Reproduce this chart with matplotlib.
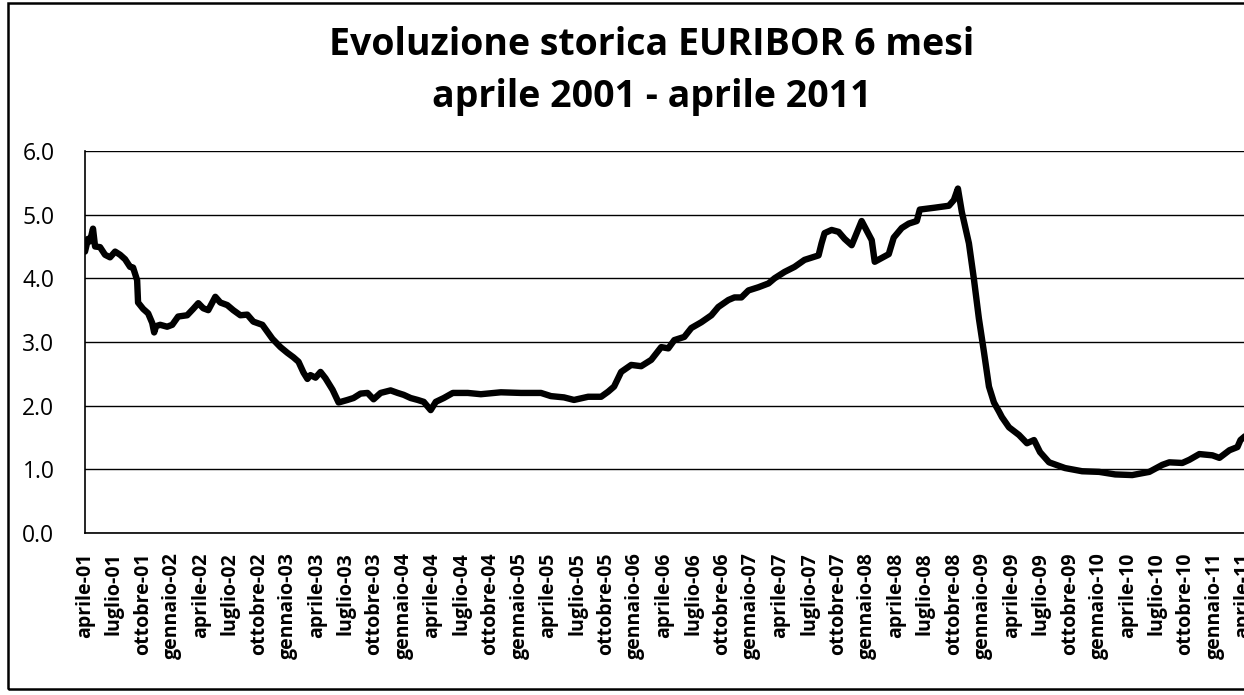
import matplotlib
matplotlib.use("Agg")
import matplotlib.pyplot as plt
from matplotlib.patches import Rectangle

# ---- data (decimal year, EURIBOR 6M %) ----
years = [2001.250, 2001.276, 2001.293, 2001.319, 2001.337, 2001.380, 2001.423, 2001.466,
         2001.510, 2001.553, 2001.596, 2001.639, 2001.665, 2001.700, 2001.708, 2001.752,
         2001.795, 2001.830, 2001.847, 2001.864, 2001.899, 2001.959, 2002.003, 2002.054,
         2002.132, 2002.184, 2002.228, 2002.271, 2002.314, 2002.375, 2002.418, 2002.478,
         2002.530, 2002.591, 2002.651, 2002.703, 2002.781, 2002.824, 2002.868, 2002.937,
         2002.997, 2003.049, 2003.093, 2003.136, 2003.170, 2003.196, 2003.240, 2003.283,
         2003.326, 2003.387, 2003.439, 2003.516, 2003.568, 2003.629, 2003.689, 2003.741,
         2003.802, 2003.888, 2003.949, 2004.001, 2004.061, 2004.122, 2004.174, 2004.234,
         2004.278, 2004.347, 2004.425, 2004.554, 2004.667, 2004.840, 2005.013, 2005.186,
         2005.272, 2005.385, 2005.471, 2005.593, 2005.705, 2005.766, 2005.817, 2005.878,
         2005.965, 2006.051, 2006.138, 2006.224, 2006.285, 2006.337, 2006.423, 2006.484,
         2006.570, 2006.657, 2006.717, 2006.804, 2006.856, 2006.916, 2006.977, 2007.063,
         2007.150, 2007.202, 2007.288, 2007.375, 2007.461, 2007.582, 2007.608, 2007.634,
         2007.695, 2007.755, 2007.807, 2007.868, 2007.954, 2008.041, 2008.067, 2008.127,
         2008.188, 2008.231, 2008.300, 2008.361, 2008.430, 2008.456, 2008.586, 2008.707,
         2008.750, 2008.785, 2008.819, 2008.880, 2008.923, 2008.966, 2009.010, 2009.053,
         2009.096, 2009.139, 2009.165, 2009.226, 2009.312, 2009.381, 2009.442, 2009.494,
         2009.572, 2009.710, 2009.857, 2010.004, 2010.143, 2010.290, 2010.437, 2010.549,
         2010.610, 2010.722, 2010.783, 2010.869, 2010.982, 2011.042, 2011.129, 2011.198,
         2011.224, 2011.276]
rates = [4.42, 4.62, 4.58, 4.78, 4.50, 4.49, 4.37, 4.33,
         4.42, 4.37, 4.30, 4.18, 4.17, 3.97, 3.62, 3.52,
         3.45, 3.30, 3.15, 3.25, 3.27, 3.24, 3.27, 3.40,
         3.42, 3.52, 3.61, 3.53, 3.50, 3.71, 3.62, 3.58,
         3.50, 3.42, 3.43, 3.32, 3.27, 3.16, 3.05, 2.92,
         2.83, 2.76, 2.69, 2.52, 2.42, 2.48, 2.44, 2.53,
         2.43, 2.25, 2.05, 2.09, 2.12, 2.19, 2.20, 2.10,
         2.20, 2.24, 2.20, 2.17, 2.12, 2.09, 2.06, 1.93,
         2.06, 2.12, 2.20, 2.20, 2.18, 2.21, 2.20, 2.20,
         2.15, 2.13, 2.09, 2.14, 2.14, 2.22, 2.30, 2.53,
         2.64, 2.62, 2.72, 2.92, 2.90, 3.03, 3.08, 3.22,
         3.31, 3.42, 3.55, 3.66, 3.70, 3.70, 3.81, 3.86,
         3.92, 4.00, 4.10, 4.18, 4.29, 4.36, 4.55, 4.71,
         4.76, 4.73, 4.62, 4.52, 4.90, 4.60, 4.26, 4.32,
         4.38, 4.64, 4.79, 4.86, 4.90, 5.08, 5.11, 5.14,
         5.23, 5.41, 5.04, 4.55, 3.99, 3.37, 2.84, 2.30,
         2.05, 1.91, 1.82, 1.66, 1.54, 1.41, 1.46, 1.27,
         1.11, 1.02, 0.97, 0.96, 0.92, 0.91, 0.96, 1.07,
         1.11, 1.10, 1.15, 1.24, 1.22, 1.18, 1.30, 1.35,
         1.46, 1.54]

tick_months = ["aprile", "luglio", "ottobre", "gennaio"]
tick_labels = []
tick_pos = []
for i in range(41):
    m = tick_months[i % 4]
    yr = 2001 + (i + 1) // 4
    tick_labels.append(f"{m}-{yr % 100:02d}")
    tick_pos.append(2001.25 + 0.25 * i)

y_ticks = [0.0, 1.0, 2.0, 3.0, 4.0, 5.0, 6.0]
title = "Evoluzione storica EURIBOR 6 mesi\naprile 2001 - aprile 2011"

# ---- figure ----
W, H = 1244, 695
fig = plt.figure(figsize=(W / 100, H / 100), dpi=100)
fig.patch.set_facecolor("white")

# outer chart border
fig.patches.append(Rectangle((8 / W, 6 / H), 1.2, 1 - 9 / H, transform=fig.transFigure,
                             fill=False, edgecolor="black", linewidth=1.8, clip_on=False))

ax = fig.add_axes([85 / W, 1 - 533 / H, (W - 85) / W + 0.002, (533 - 151) / H])
ax.plot(years, rates, color="black", linewidth=4.6, solid_joinstyle="round",
        solid_capstyle="round", zorder=3)

ax.set_ylim(0, 6)
ax.set_xlim(2001.25, 2011.276)
ax.set_yticks(y_ticks)
ax.set_yticklabels([f"{v:.1f}" for v in y_ticks], fontsize=16.5, family=["Open Sans", "DejaVu Sans"])
ax.set_xticks(tick_pos)
ax.set_xticklabels(tick_labels, rotation=90, fontsize=14, fontweight="bold",
                   family=["Liberation Sans Narrow", "Open Sans", "DejaVu Sans"])
ax.tick_params(axis="y", length=0, pad=22)
ax.tick_params(axis="x", length=0, pad=14)
ax.yaxis.grid(True, color="black", linewidth=1.0)
ax.set_axisbelow(True)
for s in ["top", "right"]:
    ax.spines[s].set_visible(False)
ax.spines["left"].set_linewidth(1.2)
ax.spines["bottom"].set_linewidth(1.2)

fig.text(652 / W, 1 - 71 / H, title, ha="center", va="center", fontsize=27,
         fontweight="bold", family=["Open Sans", "DejaVu Sans"], linespacing=1.5)

fig.savefig("out.png", dpi=100, facecolor="white")
